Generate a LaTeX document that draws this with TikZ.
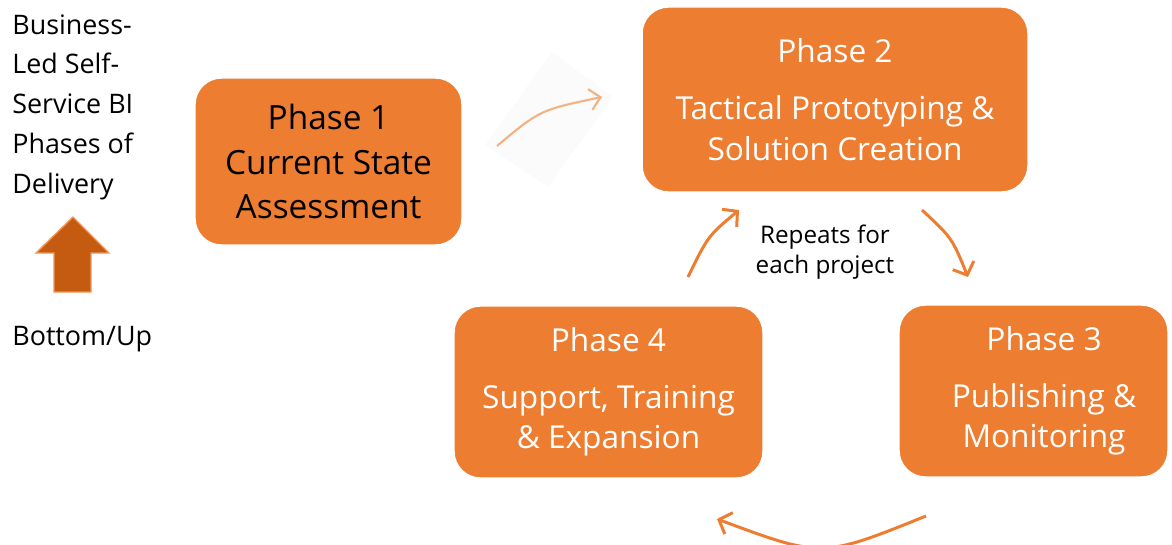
\documentclass[tikz,border=0pt]{standalone}
\usepackage{fontspec}
\setmainfont{Open Sans}
\usetikzlibrary{arrows.meta}
\definecolor{phaseorange}{HTML}{ED7D31}
\definecolor{darkorange}{HTML}{C55A11}
\definecolor{lightorange}{HTML}{F4B183}
\tikzset{
  phase/.style={rectangle, rounded corners=15pt, fill=phaseorange, draw=white,
    line width=0.8pt, align=center, inner sep=0pt, text=white,
    font=\fontsize{18}{23.2}\selectfont},
  cycle arrow/.style={draw=phaseorange, line width=1.7pt,
    -{Straight Barb[length=6pt,width=13pt]}},
}

\begin{document}
\begin{tikzpicture}[x=0.02cm, y=-0.02cm]
  \useasboundingbox (0,0) rectangle (1172,544);
  % left legend
  \node[anchor=north west, align=left, inner sep=0pt,
    font=\fontsize{15.3}{22.7}\selectfont] (legend) at (12,14)
    {Business-\\Led Self-\\Service BI\\Phases of\\Delivery};
  \draw[fill=darkorange, draw=phaseorange!80, line width=0.8pt]
    (73,217) -- (109,253) -- (91,253) -- (91,292) -- (54,292) -- (54,253)
    -- (36,253) -- cycle;
  \node[anchor=base west, inner sep=0pt, font=\fontsize{15.3}{22.7}\selectfont]
    (bottomup) at (12,345) {Bottom/Up};
  % phases
  \node[phase, text=black, minimum width=5.34cm, minimum height=3.34cm,
    font=\fontsize{19}{25.5}\selectfont] (p1) at (328.5,161.5)
    {Phase 1\\Current State\\Assessment};
  \node[phase, minimum width=7.72cm, minimum height=3.7cm] (p2) at (835,99.5)
    {Phase 2\\[9pt]Tactical Prototyping \&\\Solution Creation};
  \node[phase, minimum width=5.38cm, minimum height=3.44cm] (p3) at (1033.5,391)
    {\hspace{12pt}Phase 3\\[9pt]\hspace{12pt}Publishing \&\\\hspace{12pt}Monitoring};
  \node[phase, minimum width=6.18cm, minimum height=3.44cm] (p4) at (608.5,392)
    {Phase 4\\[9pt]Support, Training\\\& Expansion};
  \node[align=center, inner sep=0pt, font=\fontsize{13.8}{17}\selectfont]
    (repeat) at (825,252) {Repeats for\\each project};
  % arrows
  \fill[black!1.5] (552,52) -- (613,97) -- (548,187) -- (485,145) -- cycle;
  \coordinate (a1) at (497,146);
  \coordinate (a2) at (602,97);
  \draw[draw=lightorange, line width=1.2pt,
    -{Straight Barb[length=6pt,width=12pt]}] (a1) .. controls (540,110) .. (a2);
  \coordinate (b1) at (688,277);
  \coordinate (b2) at (739,210);
  \draw[cycle arrow] (b1) .. controls (708,236) .. (b2);
  \coordinate (c1) at (922,210);
  \coordinate (c2) at (968,277);
  \draw[cycle arrow] (c1) .. controls (952,238) .. (c2);
  \coordinate (d1) at (926,516);
  \coordinate (d2) at (717,519);
  \draw[cycle arrow] (d1) .. controls (822,558) .. (d2);
\end{tikzpicture}
\end{document}
